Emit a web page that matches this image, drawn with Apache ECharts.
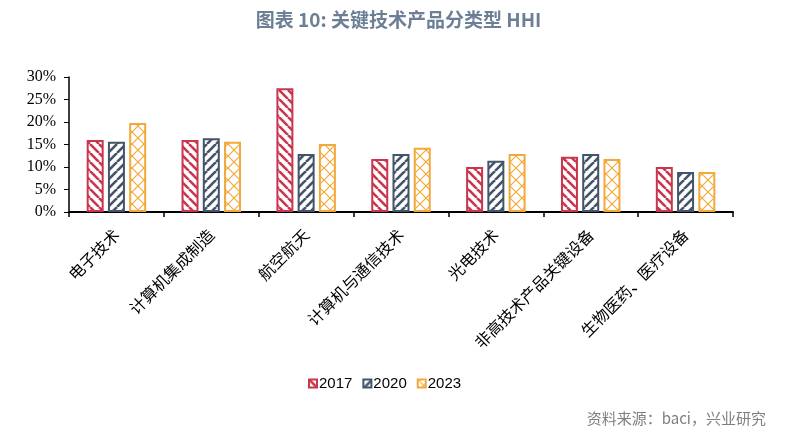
<!DOCTYPE html>
<html>
<head>
<meta charset="utf-8">
<script src="https://cdn.jsdelivr.net/npm/echarts@6/dist/echarts.min.js"></script>
<style>
html,body{margin:0;padding:0;background:#fff;}
#main{width:797px;height:438px;}
</style>
</head>
<body>
<div id="main"></div>
<script>
var categories = ['电子技术','计算机集成制造','航空航天','计算机与通信技术','光电技术','非高技术产品关键设备','生物医药、医疗设备'];
var series2017 = [0.160, 0.160, 0.275, 0.118, 0.100, 0.123, 0.100];
var series2020 = [0.156, 0.164, 0.129, 0.129, 0.114, 0.129, 0.089];
var series2023 = [0.198, 0.156, 0.151, 0.143, 0.129, 0.118, 0.089];
var seriesNames = ['2017','2020','2023'];
var yTicks = [0, 0.05, 0.10, 0.15, 0.20, 0.25, 0.30];

var RED = '#c8374f', BLUE = '#44546a', ORANGE = '#f2a93b';

function stripePattern(color, dir) {
  var s = 9;
  var c = document.createElement('canvas');
  c.width = s; c.height = s;
  var ctx = c.getContext('2d');
  ctx.fillStyle = '#fff';
  ctx.fillRect(0, 0, s, s);
  ctx.strokeStyle = color;
  ctx.lineWidth = 2.6;
  for (var k = -s; k <= s; k += s) {
    ctx.beginPath();
    if (dir === 'back') { ctx.moveTo(k, 0); ctx.lineTo(k + s, s); }
    else { ctx.moveTo(k, s); ctx.lineTo(k + s, 0); }
    ctx.stroke();
  }
  return {image: c, repeat: 'repeat'};
}
function latticePattern(color) {
  var s = 12;
  var c = document.createElement('canvas');
  c.width = s; c.height = s;
  var ctx = c.getContext('2d');
  ctx.fillStyle = '#fff';
  ctx.fillRect(0, 0, s, s);
  ctx.strokeStyle = color;
  ctx.lineWidth = 1.2;
  ctx.beginPath(); ctx.moveTo(0, 0); ctx.lineTo(s, s); ctx.stroke();
  ctx.beginPath(); ctx.moveTo(s, 0); ctx.lineTo(0, s); ctx.stroke();
  return {image: c, repeat: 'repeat'};
}

var fills = [stripePattern(RED, 'back'), stripePattern(BLUE, 'fwd'), latticePattern(ORANGE)];
var borders = [RED, BLUE, ORANGE];
var datas = [series2017, series2020, series2023];

var chart = echarts.init(document.getElementById('main'));
var option = {
  backgroundColor: '#fff',
  animation: false,
  title: [{
    text: '图表 10: 关键技术产品分类型 HHI',
    left: 'center',
    top: 5,
    textStyle: {color: '#6d7f95', fontSize: 19, fontWeight: 'bold', fontFamily: 'Noto Sans CJK SC'}
  }, {
    text: '资料来源：baci，兴业研究',
    right: 26,
    top: 406,
    textStyle: {color: '#7f7f7f', fontSize: 15, fontWeight: 'normal', fontFamily: 'Noto Sans CJK SC'}
  }],
  legend: {
    data: seriesNames,
    left: 303,
    top: 371,
    itemWidth: 8,
    itemHeight: 8,
    itemGap: 10,
    icon: 'rect',
    textStyle: {color: '#000', fontSize: 15, fontFamily: 'Liberation Sans', padding: [0,0,0,-3]}
  },
  grid: {left: 69, right: 64, top: 77, bottom: 226, containLabel: false},
  xAxis: {
    type: 'category',
    data: categories,
    axisLine: {lineStyle: {color: '#000', width: 2}},
    axisTick: {show: true, alignWithLabel: false, length: 5, lineStyle: {color: '#000', width: 1.5}},
    axisLabel: {interval: 0, rotate: 45, margin: 20, color: '#000', fontSize: 16, fontFamily: 'Noto Sans CJK SC'}
  },
  yAxis: {
    type: 'value',
    min: 0, max: 0.3, interval: 0.05,
    axisLine: {show: true, lineStyle: {color: '#000', width: 1.5}},
    axisTick: {show: true, length: 5, lineStyle: {color: '#000'}},
    splitLine: {show: false},
    axisLabel: {
      color: '#000', fontSize: 16, fontFamily: 'Liberation Serif', margin: 13,
      formatter: function (v) { return Math.round(v * 100) + '%'; }
    }
  },
  series: seriesNames.map(function (n, i) {
    return {
      name: n,
      type: 'bar',
      data: datas[i],
      barWidth: 17,
      barGap: '25%',
      itemStyle: {color: fills[i], borderColor: borders[i], borderWidth: 2}
    };
  })
};
chart.setOption(option);
</script>
</body>
</html>
